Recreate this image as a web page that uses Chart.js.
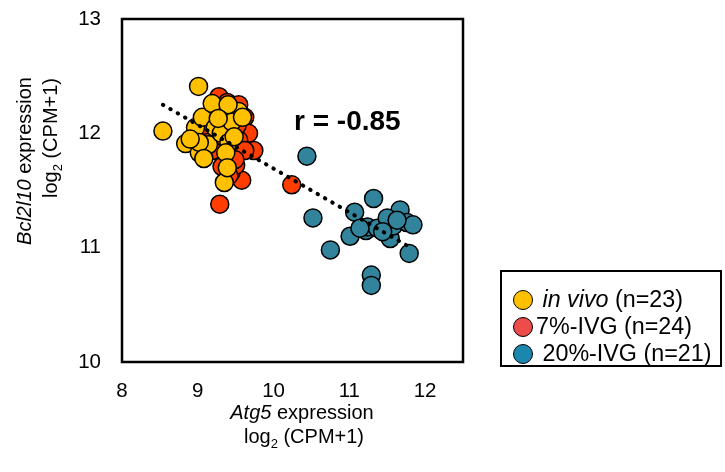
<!DOCTYPE html>
<html>
<head>
<meta charset="utf-8">
<script src="https://cdn.jsdelivr.net/npm/chart.js@4/dist/chart.umd.min.js"></script>
<style>
    body { margin: 0; background: #fff; font-family: 'Liberation Sans', Arial, sans-serif; }
    #wrap { position: relative; width: 725px; height: 472px; }
    .lbl { position: absolute; white-space: nowrap; font-size: 20px; color: #000; line-height: 1; }
    .rot { transform: translate(-50%, -50%) rotate(-90deg); }
    .hc { transform: translate(-50%, -50%); }
    #legend { position: absolute; left: 500px; top: 270px; width: 222px; height: 97px; border: 2px solid #000; box-sizing: border-box; }
    .item { position: absolute; left: 11px; height: 22px; font-size: 23.3px; line-height: 22px; white-space: nowrap; }
    .dot { display: inline-block; width: 20px; height: 20px; border-radius: 50%; border: 1.5px solid #000; box-sizing: border-box; vertical-align: -3px; margin-right: 3px; }
</style>
</head>
<body>
<div id="wrap">
    <canvas id="chart"></canvas>

    <div class="lbl rot" style="left:24px; top:161px;"><i>Bcl2l10</i> expression</div>
    <div class="lbl rot" style="left:52px; top:138px;">log<sub style="font-size:13px;">2</sub> (CPM+1)</div>
    <div class="lbl hc" style="left:302px; top:412px;"><i>Atg5</i> expression</div>
    <div class="lbl hc" style="left:304px; top:438px;">log<sub style="font-size:13px;">2</sub> (CPM+1)</div>
    <div class="lbl" style="left:294px; top:107px; font-size:28px; font-weight:bold;">r = -0.85</div>

    <div id="legend">
        <div class="item" style="top:16px;"><span class="dot" style="background:#FFC000;"></span> <i>in vivo</i> (n=23)</div>
        <div class="item" style="top:43px;"><span class="dot" style="background:#EE4B4B;"></span>7%-IVG (n=24)</div>
        <div class="item" style="top:70px;"><span class="dot" style="background:#1B86AE;"></span> 20%-IVG (n=21)</div>
    </div>
</div>

<script>
// axis ranges / ticks
const xRange = [8, 12.5];
const yRange = [10, 13];

// in vivo (n=23)
const vivoX = [9.01, 8.54, 8.84, 8.97, 9.02, 9.06, 9.19, 9.14, 9.23, 9.31, 9.41, 9.37, 9.35, 9.54, 9.45, 9.48, 9.40, 9.02, 9.27, 8.90, 9.08, 9.59, 9.39];
const vivoY = [12.41, 12.02, 11.91, 12.05, 11.83, 12.14, 12.26, 11.90, 12.05, 12.00, 11.92, 11.83, 11.57, 12.19, 12.10, 11.97, 12.25, 11.92, 12.13, 11.95, 11.78, 12.14, 11.70];

// 7%-IVG (n=24)
const ivg7X = [9.28, 9.39, 9.54, 9.62, 9.67, 9.74, 9.58, 9.44, 9.32, 9.50, 9.29, 10.24, 9.24, 9.45, 9.15, 9.34, 9.54, 9.08, 9.52, 9.35, 9.62, 9.19, 9.49, 9.41];
const ivg7Y = [12.32, 12.27, 12.25, 12.14, 12.00, 11.85, 11.59, 11.66, 11.71, 11.72, 11.38, 11.55, 12.06, 12.19, 11.99, 11.94, 11.94, 12.07, 12.07, 12.13, 11.85, 11.85, 11.77, 11.63];

// 20%-IVG (n=21)
const ivg20X = [10.44, 10.52, 10.75, 11.07, 11.01, 11.32, 11.22, 11.24, 11.37, 11.54, 11.58, 11.67, 11.76, 11.84, 11.79, 11.29, 11.29, 11.50, 11.44, 11.63, 11.14];
const ivg20Y = [11.80, 11.26, 10.98, 11.31, 11.10, 11.43, 11.15, 11.18, 11.17, 11.08, 11.19, 11.33, 11.22, 11.20, 10.95, 10.76, 10.67, 11.26, 11.14, 11.24, 11.17];

// fitted trend line end points
const trendX = [8.54, 11.81];
const trendY = [12.25, 11.0];

const pts = (xs, ys) => xs.map((x, i) => ({ x, y: ys[i] }));

// box around the plot area
const frame = {
    id: 'frame',
    afterDraw(chart) {
        const { ctx, chartArea: a } = chart;
        ctx.save();
        ctx.strokeStyle = '#000';
        ctx.lineWidth = 2.5;
        ctx.strokeRect(a.left, a.top, a.right - a.left, a.bottom - a.top);
        ctx.restore();
    }
};

const dotStyle = { pointRadius: 9, pointHoverRadius: 9, pointBorderColor: '#000', pointBorderWidth: 1.5, showLine: false };
const tickFont = { size: 20.5, family: "'Liberation Sans', Arial" };

new Chart(document.getElementById('chart'), {
    type: 'scatter',
    data: {
        datasets: [
            { label: 'trend', type: 'line', data: pts(trendX, trendY), borderColor: '#000', borderWidth: 4, borderDash: [0.5, 8], borderCapStyle: 'round', pointRadius: 0, fill: false, order: 0 },
            { label: 'in vivo', data: pts(vivoX, vivoY), backgroundColor: '#FFC000', ...dotStyle, order: 1 },
            { label: '7%-IVG', data: pts(ivg7X, ivg7Y), backgroundColor: '#FF3D00', ...dotStyle, order: 2 },
            { label: '20%-IVG', data: pts(ivg20X, ivg20Y), backgroundColor: '#31849B', ...dotStyle, order: 3 }
        ]
    },
    options: {
        responsive: true,
        maintainAspectRatio: false,
        animation: false,
        layout: { padding: { top: 19, right: 262, left: 0, bottom: 0 } },
        plugins: { legend: { display: false }, tooltip: { enabled: false } },
        scales: {
            x: {
                type: 'linear', min: xRange[0], max: xRange[1],
                grid: { display: false }, border: { display: false },
                ticks: { stepSize: 1, includeBounds: false, padding: 9, color: '#000', font: tickFont },
                afterFit: s => { s.height = 110; s.paddingLeft = 0; s.paddingRight = 0; }
            },
            y: {
                type: 'linear', min: yRange[0], max: yRange[1],
                grid: { display: false }, border: { display: false },
                ticks: { stepSize: 1, padding: 13, color: '#000', font: tickFont },
                afterFit: s => { s.width = 122; s.paddingTop = 0; s.paddingBottom = 0; }
            }
        }
    },
    plugins: [frame]
});
</script>
</body>
</html>
